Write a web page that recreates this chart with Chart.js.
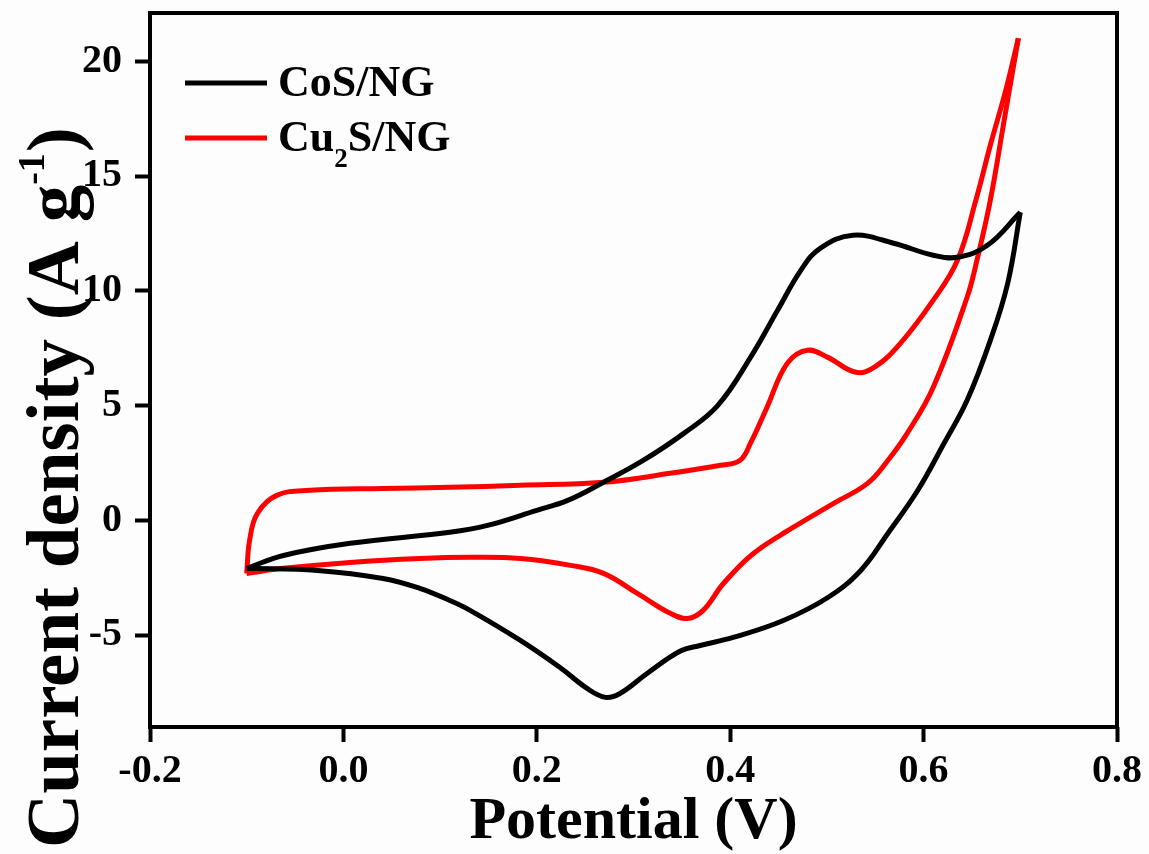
<!DOCTYPE html>
<html>
<head>
<meta charset="utf-8">
<script src="https://cdn.jsdelivr.net/npm/chart.js@4.4.1/dist/chart.umd.min.js"></script>
<style>
  html, body { margin: 0; padding: 0; background: #fdfdfd; }
  canvas { display: block; }
</style>
</head>
<body>
<canvas id="cv" width="1149" height="854"></canvas>
<script>
// CV loops: potential (V) vs current density (A/g)
// each loop is split in anodic (forward) and cathodic (return) sweep
const cosFwdV = [-0.10, -0.062, 0.007, 0.110, 0.149, 0.200, 0.232, 0.269, 0.310, 0.352, 0.387, 0.421, 0.449, 0.473, 0.493, 0.527, 0.569, 0.610, 0.635, 0.666, 0.700];
const cosFwdI = [-2.09, -1.53, -1.00, -0.52, -0.22, 0.44, 0.87, 1.66, 2.61, 3.79, 5.00, 7.10, 9.15, 10.89, 11.85, 12.42, 12.07, 11.55, 11.46, 11.98, 13.42];
const cosRevV = [0.700, 0.687, 0.669, 0.645, 0.621, 0.594, 0.563, 0.535, 0.501, 0.455, 0.403, 0.369, 0.348, 0.314, 0.286, 0.271, 0.252, 0.224, 0.183, 0.131, 0.110, 0.079, 0.041, -0.027, -0.10];
const cosRevI = [13.42, 10.33, 7.84, 5.23, 3.35, 1.31, -0.57, -2.18, -3.36, -4.36, -5.10, -5.45, -5.70, -6.67, -7.54, -7.71, -7.32, -6.41, -5.23, -3.92, -3.49, -2.96, -2.53, -2.18, -2.09];

const cuFwdV = [-0.10, -0.097, -0.089, -0.069, -0.035, 0.041, 0.110, 0.183, 0.269, 0.338, 0.390, 0.410, 0.421, 0.438, 0.459, 0.480, 0.501, 0.530, 0.550, 0.576, 0.610, 0.635, 0.654, 0.669, 0.685, 0.698];
const cuFwdI = [-2.31, -0.87, 0.30, 1.09, 1.31, 1.39, 1.44, 1.53, 1.66, 2.05, 2.40, 2.61, 3.36, 4.92, 6.84, 7.41, 7.10, 6.45, 6.70, 7.71, 9.59, 11.33, 13.94, 16.34, 18.74, 21.0];
const cuRevV = [0.698, 0.684, 0.669, 0.655, 0.645, 0.610, 0.583, 0.563, 0.542, 0.507, 0.465, 0.424, 0.393, 0.372, 0.356, 0.338, 0.304, 0.269, 0.235, 0.183, 0.131, 0.079, 0.007, -0.062, -0.10];
const cuRevI = [21.0, 17.6, 13.94, 11.3, 9.72, 5.80, 3.79, 2.61, 1.61, 0.74, -0.31, -1.44, -2.75, -3.92, -4.27, -4.05, -3.18, -2.31, -1.96, -1.66, -1.61, -1.66, -1.83, -2.09, -2.31];

const seriesLabels = ['CoS/NG', 'Cu2S/NG'];
const seriesColors = ['#000000', '#ff0000'];

const xTitle = 'Potential (V)';
const yTitleMain = 'Current density (A g';
const yTitleSup = '-1';
const yTitleEnd = ')';

const FONT = "'Liberation Serif', 'Times New Roman', serif";

const toPts = (xs, ys) => xs.map((x, i) => ({ x: x, y: ys[i] }));

const lineDs = (label, color, xs, ys) => ({
    label: label,
    data: toPts(xs, ys),
    borderColor: color,
    backgroundColor: color,
    borderWidth: 5,
    pointRadius: 0,
    showLine: true,
    tension: 0.4,
    fill: false
});

// frame, legend and y title drawn on top of the chart
const decoPlugin = {
    id: 'deco',
    afterDraw: (chart) => {
        const { ctx, chartArea: a } = chart;
        ctx.save();
        ctx.strokeStyle = '#000';
        ctx.lineWidth = 4;
        ctx.strokeRect(a.left, a.top, a.right - a.left, a.bottom - a.top);

        // legend
        const rows = [
            { y: a.top + 70, color: seriesColors[0] },
            { y: a.top + 125, color: seriesColors[1] }
        ];
        rows.forEach(r => {
            ctx.strokeStyle = r.color;
            ctx.lineWidth = 5;
            ctx.beginPath();
            ctx.moveTo(a.left + 35, r.y);
            ctx.lineTo(a.left + 117, r.y);
            ctx.stroke();
        });
        ctx.fillStyle = '#000';
        ctx.textBaseline = 'alphabetic';
        ctx.textAlign = 'left';
        ctx.font = 'bold 44px ' + FONT;
        const tx = a.left + 128;
        ctx.fillText(seriesLabels[0], tx, rows[0].y + 13);
        // Cu2S/NG with subscript 2
        const parts = seriesLabels[1].split('2');
        let x = tx;
        ctx.fillText(parts[0], x, rows[1].y + 13);
        x += ctx.measureText(parts[0]).width;
        ctx.font = 'bold 27px ' + FONT;
        ctx.fillText('2', x, rows[1].y + 29);
        x += ctx.measureText('2').width;
        ctx.font = 'bold 44px ' + FONT;
        ctx.fillText(parts[1], x, rows[1].y + 13);

        // y title, rotated, with superscript
        ctx.translate(78, 848);
        ctx.rotate(-Math.PI / 2);
        ctx.font = 'bold 75px ' + FONT;
        ctx.fillText(yTitleMain, 0, 0);
        let w = ctx.measureText(yTitleMain).width;
        ctx.font = 'bold 38px ' + FONT;
        ctx.fillText(yTitleSup, w, -34);
        w += ctx.measureText(yTitleSup).width + 1;
        ctx.font = 'bold 75px ' + FONT;
        ctx.fillText(yTitleEnd, w, 0);
        ctx.restore();
    }
};

new Chart(document.getElementById('cv'), {
    type: 'scatter',
    data: {
        datasets: [
            lineDs(seriesLabels[0], seriesColors[0], cosFwdV, cosFwdI),
            lineDs(seriesLabels[0], seriesColors[0], cosRevV, cosRevI),
            lineDs(seriesLabels[1], seriesColors[1], cuFwdV, cuFwdI),
            lineDs(seriesLabels[1], seriesColors[1], cuRevV, cuRevI)
        ]
    },
    options: {
        responsive: false,
        animation: false,
        layout: { padding: { top: 13, right: 32, left: 0, bottom: 0 } },
        plugins: {
            legend: { display: false },
            tooltip: { enabled: false }
        },
        scales: {
            x: {
                type: 'linear',
                min: -0.2,
                max: 0.8,
                border: { display: false },
                grid: { drawOnChartArea: false, drawTicks: true, tickLength: 15, tickWidth: 4, tickColor: '#000', color: '#000' },
                ticks: {
                    stepSize: 0.2,
                    padding: 6,
                    color: '#000',
                    font: { family: FONT, size: 40, weight: 'bold' },
                    callback: v => v.toFixed(1)
                },
                title: {
                    display: true,
                    text: xTitle,
                    color: '#000',
                    font: { family: FONT, size: 60, weight: 'bold', lineHeight: 1 },
                    padding: { top: 0, bottom: 2 }
                },
                afterFit: s => { s.height = 127; s.paddingLeft = 0; s.paddingRight = 0; }
            },
            y: {
                type: 'linear',
                min: -9,
                max: 22.1,
                border: { display: false },
                grid: { drawOnChartArea: false, drawTicks: true, tickLength: 15, tickWidth: 4, tickColor: '#000', color: '#000' },
                ticks: {
                    stepSize: 5,
                    includeBounds: false,
                    padding: 13,
                    color: '#000',
                    font: { family: FONT, size: 40, weight: 'bold' },
                    callback: v => String(v)
                },
                afterFit: s => { s.width = 150; s.paddingTop = 0; s.paddingBottom = 0; }
            }
        }
    },
    plugins: [decoPlugin]
});
</script>
</body>
</html>
